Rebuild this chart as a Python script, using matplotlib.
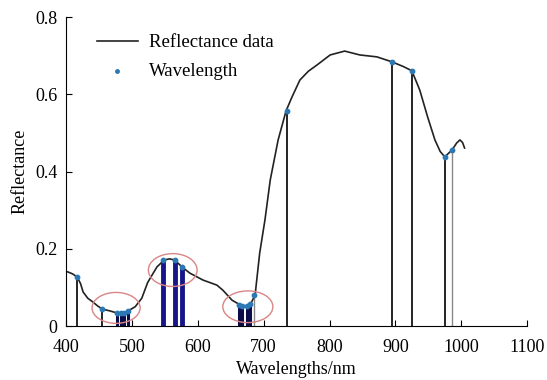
import matplotlib
matplotlib.use("Agg")
import matplotlib.pyplot as plt
from matplotlib.patches import Ellipse
from matplotlib.ticker import FuncFormatter

# reflectance curve
wavelength = [400, 403, 410, 417, 422, 426, 433, 441, 448, 455, 467, 477, 485, 494,
              505, 515, 524, 538, 549, 557, 565, 576, 588, 608, 629, 638, 652, 667,
              676, 681, 687, 694, 702, 710, 722, 734, 743, 755, 768, 781, 801, 823,
              846, 872, 895, 912, 925, 937, 949, 960, 968, 975, 986, 993, 998, 1002, 1005]
reflectance = [0.141, 0.140, 0.135, 0.127, 0.110, 0.088, 0.072, 0.062, 0.052, 0.044,
               0.039, 0.034, 0.032, 0.039, 0.050, 0.072, 0.113, 0.153, 0.171, 0.174,
               0.171, 0.153, 0.137, 0.119, 0.106, 0.093, 0.067, 0.052, 0.052, 0.060,
               0.080, 0.189, 0.275, 0.378, 0.482, 0.557, 0.593, 0.637, 0.660, 0.676,
               0.702, 0.712, 0.702, 0.697, 0.684, 0.672, 0.661, 0.611, 0.541, 0.482,
               0.452, 0.438, 0.456, 0.474, 0.482, 0.475, 0.461]

# selected wavelengths, grouped by how the stems are drawn
thin_wl = [417, 455, 735, 895, 925, 975]
thin_r = [0.127, 0.044, 0.557, 0.684, 0.661, 0.438]
grey_wl = [685, 986]
grey_r = [0.080, 0.456]
dark_wl = [477, 484, 488, 494, 662, 667, 674, 679]
dark_r = [0.034, 0.033, 0.034, 0.038, 0.055, 0.052, 0.052, 0.058]
bar_wl = [547, 565, 576]
bar_r = [0.171, 0.171, 0.153]

# highlighted regions (centre wl, centre r, width nm, height)
circ_x = [476, 562, 676]
circ_y = [0.047, 0.145, 0.050]
circ_w = [73, 74, 76]
circ_h = [0.080, 0.085, 0.082]

plt.rcParams['font.family'] = ['Liberation Serif', 'DejaVu Serif']

fig = plt.figure(figsize=(5.47, 3.80), dpi=100)
ax = fig.add_axes([0.1207, 0.142, 0.843, 0.813])

ax.vlines(thin_wl, 0, thin_r, color='black', lw=1.2)
ax.vlines(grey_wl, 0, grey_r, color='#888888', lw=1.0)
ax.vlines(dark_wl, 0, dark_r, color='#0c0c4a', lw=2.2)
ax.vlines(bar_wl, 0, bar_r, color='#16168a', lw=3.5)

line, = ax.plot(wavelength, reflectance, color='#222222', lw=1.2, label='Reflectance data')

all_wl = thin_wl + grey_wl + dark_wl + bar_wl
all_r = thin_r + grey_r + dark_r + bar_r
pts = ax.scatter(all_wl, all_r, s=10, color='#2c78b4', zorder=3, label='Wavelength')

for cx, cy, w, h in zip(circ_x, circ_y, circ_w, circ_h):
    ax.add_patch(Ellipse((cx, cy), w, h, fill=False, edgecolor='#d98585', lw=1.0,
                         clip_on=False, zorder=4))

ax.set_xlim(400, 1100)
ax.set_ylim(0, 0.8)
ax.set_xticks(range(400, 1101, 100))
ax.set_yticks([0, 0.2, 0.4, 0.6, 0.8])
ax.yaxis.set_major_formatter(FuncFormatter(lambda v, p: '0' if v == 0 else f'{v:.1f}'))
ax.tick_params(direction='in', length=4, labelsize=13)
ax.tick_params(axis='x', pad=9)
ax.tick_params(axis='y', pad=6)
ax.spines['top'].set_visible(False)
ax.spines['right'].set_visible(False)

ax.set_xlabel('Wavelengths/nm', fontsize=13, labelpad=4)
ax.set_ylabel('Reflectance', fontsize=13, labelpad=5)

ax.legend(handles=[line, pts], loc='upper left', bbox_to_anchor=(0.03, 1.0),
          frameon=False, fontsize=13.5, handlelength=2.2, handletextpad=0.6,
          markerscale=0.8, labelspacing=0.65)

fig.savefig('out.png', dpi=100)
